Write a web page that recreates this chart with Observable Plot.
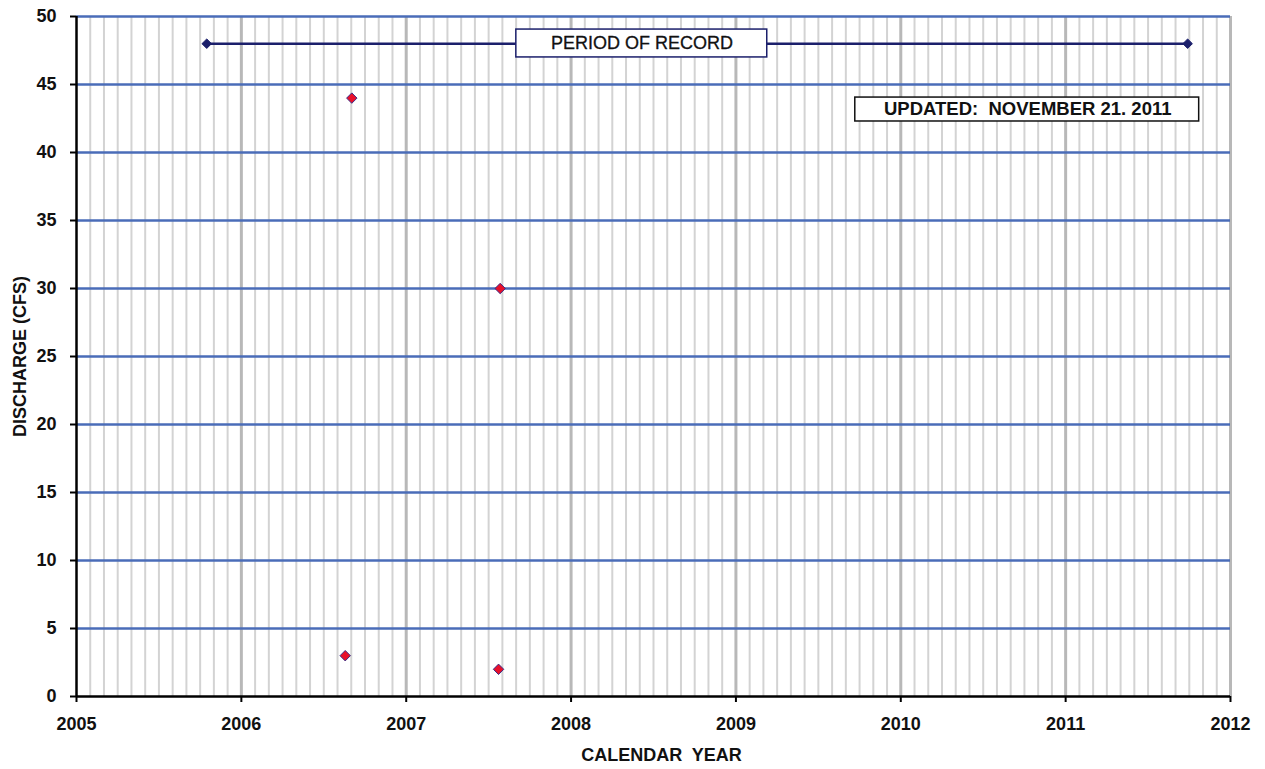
<!DOCTYPE html>
<html>
<head>
<meta charset="utf-8">
<script src="https://cdn.jsdelivr.net/npm/d3@7"></script>
<script src="https://cdn.jsdelivr.net/npm/@observablehq/plot@0.6"></script>
<style>
  html, body { margin: 0; padding: 0; background: #fff; }
  svg { display: block; }
</style>
</head>
<body>
<div id="chart"></div>
<script>
// Data
const sampleYears = [2006.63, 2006.67, 2007.57, 2007.56];
const sampleDischarge = [3, 44, 30, 2];

const periodYears = [2005.79, 2011.74];
const periodDischarge = [48, 48];

const yearTicks = [2005, 2006, 2007, 2008, 2009, 2010, 2011, 2012];
const dischargeTicks = [0, 5, 10, 15, 20, 25, 30, 35, 40, 45, 50];

const periodLabel = "PERIOD OF RECORD";
const updatedLabel = "UPDATED:  NOVEMBER 21. 2011";

// tables for the library
const samples = sampleYears.map((x, i) => ({x, y: sampleDischarge[i]}));
const period = periodYears.map((x, i) => ({x, y: periodDischarge[i]}));
const monthTicks = yearTicks.slice(0, -1).flatMap(y => d3.range(1, 12).map(m => y + m / 12));

// annotation boxes (data coordinates)
const periodBox = [{x1: 2007.668, x2: 2009.19, y1: 46.99, y2: 49.04, cx: 2008.43, cy: 48.0, text: periodLabel}];
const updatedBox = [{x1: 2009.724, x2: 2011.81, y1: 42.28, y2: 44.04, cx: 2010.77, cy: 43.16, text: updatedLabel}];

const FONT = "'Liberation Sans', Arial, sans-serif";
const navy = "#1b1f6b";

const chart = Plot.plot({
  width: 1265,
  height: 769,
  marginLeft: 76,
  marginRight: 35,
  marginTop: 16,
  marginBottom: 73,
  style: {fontFamily: FONT, background: "#fff", overflow: "visible"},
  x: {type: "linear", domain: [2005, 2012]},
  y: {domain: [0, 50]},
  marks: [
    // monthly minor gridlines
    Plot.ruleX(monthTicks, {stroke: "#d3d3d3", strokeWidth: 2}),
    // yearly gridlines
    Plot.ruleX(yearTicks.slice(1), {stroke: "#b8b8b8", strokeWidth: 3}),
    // horizontal gridlines
    Plot.ruleY(dischargeTicks.slice(1), {stroke: "#4a6cb8", strokeWidth: 2.5}),
    // axes
    Plot.axisX({ticks: yearTicks, tickFormat: d => String(d), tickSize: 6, tickPadding: 15,
      fontSize: 18, fontWeight: "bold", stroke: "#000", strokeWidth: 2, fill: "#111", label: null}),
    Plot.axisY({ticks: dischargeTicks, tickFormat: d => String(d), tickSize: 6, tickPadding: 14,
      fontSize: 18, fontWeight: "bold", stroke: "#000", strokeWidth: 2, fill: "#111", label: null}),
    Plot.ruleY([0], {stroke: "#000", strokeWidth: 2.5}),
    Plot.ruleX([2005], {stroke: "#000", strokeWidth: 2.5}),
    // axis titles
    Plot.text([ "CALENDAR  YEAR" ], {frameAnchor: "bottom", dy: 59, dx: 8, text: d => d,
      fontSize: 18, fontWeight: "bold", fill: "#111", lineAnchor: "middle"}),
    Plot.text([ "DISCHARGE (CFS)" ], {frameAnchor: "left", dx: -56, text: d => d, rotate: -90,
      fontSize: 18, fontWeight: "bold", fill: "#111", lineAnchor: "middle", textAnchor: "middle"}),
    // period of record line
    Plot.line(period, {x: "x", y: "y", stroke: navy, strokeWidth: 2.5}),
    Plot.dot(period, {x: "x", y: "y", symbol: "diamond2", r: 4.3, fill: navy, stroke: navy, strokeWidth: 1}),
    // label boxes
    Plot.rect(periodBox, {x1: "x1", x2: "x2", y1: "y1", y2: "y2", fill: "#fff", stroke: navy, strokeWidth: 1.5}),
    Plot.text(periodBox, {x: "cx", y: "cy", text: "text", fontSize: 18, fill: "#111", stroke: "#111", strokeWidth: 0.3, lineAnchor: "middle"}),
    Plot.rect(updatedBox, {x1: "x1", x2: "x2", y1: "y1", y2: "y2", fill: "#fff", stroke: "#111", strokeWidth: 1.5}),
    Plot.text(updatedBox, {x: "cx", y: "cy", text: "text", fontSize: 18.5, fontWeight: "bold", fill: "#111", lineAnchor: "middle"}),
    // sample points
    Plot.dot(samples, {x: "x", y: "y", symbol: "diamond2", r: 4.7, fill: "#e8102a", stroke: "#3a2c86", strokeWidth: 1})
  ]
});
document.getElementById("chart").appendChild(chart);
</script>
</body>
</html>
